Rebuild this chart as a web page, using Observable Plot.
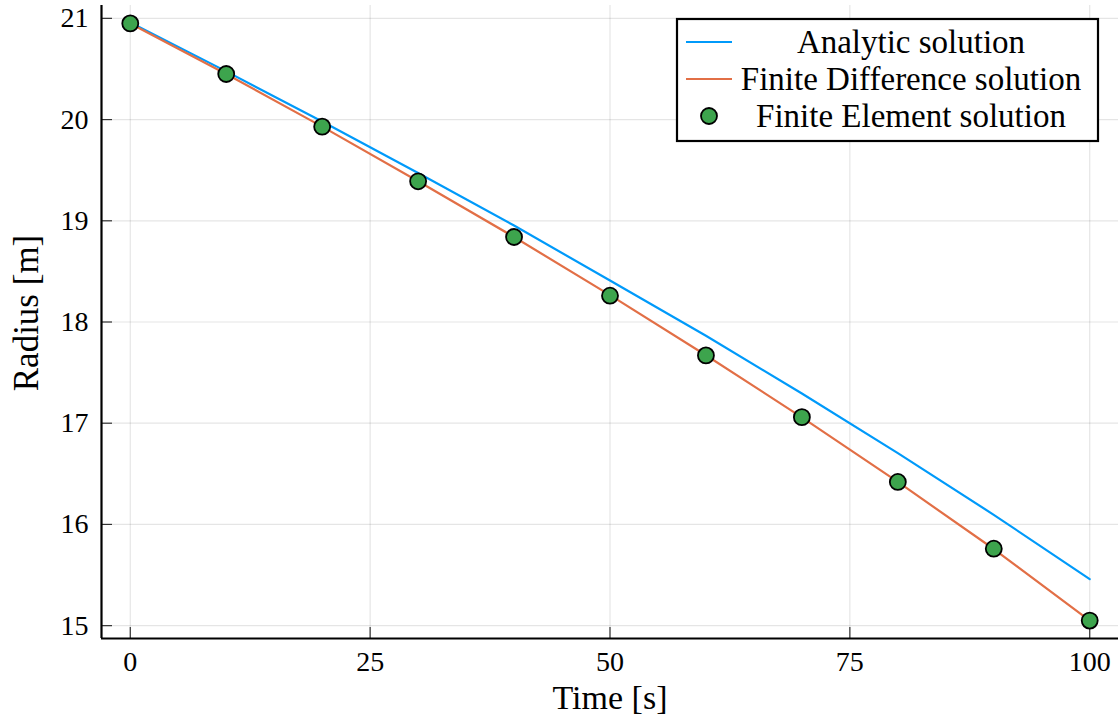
<!DOCTYPE html>
<html>
<head>
<meta charset="utf-8">
<script src="https://cdn.jsdelivr.net/npm/d3@7"></script>
<script src="https://cdn.jsdelivr.net/npm/@observablehq/plot@0.6"></script>
<style>
  html, body { margin: 0; padding: 0; background: #fff; }
  #chart svg { display: block; }
</style>
</head>
<body>
<div id="chart"></div>
<script>
// ---- data ----
const time = [0, 10, 20, 30, 40, 50, 60, 70, 80, 90, 100];
const analytic = [20.96, 20.476, 19.981, 19.473, 18.953, 18.41, 17.864, 17.294, 16.705, 16.095, 15.46];
const finiteDifference = [20.95, 20.45, 19.93, 19.39, 18.84, 18.265, 17.672, 17.058, 16.42, 15.757, 15.05];
const finiteElement = [20.95, 20.45, 19.93, 19.39, 18.84, 18.26, 17.67, 17.06, 16.42, 15.76, 15.05];

const xTicks = [0, 25, 50, 75, 100];
const yTicks = [15, 16, 17, 18, 19, 20, 21];
const xDomain = [-3, 103];
const yDomain = [14.873, 21.127];

const seriesNames = ["Analytic solution", "Finite Difference solution", "Finite Element solution"];
const colors = ["#009AFA", "#E26F46", "#3DA44D"];

const toRows = (vals) => time.map((t, i) => ({t, r: vals[i]}));
const aRows = toRows(analytic);
const fdRows = toRows(finiteDifference);
const feRows = toRows(finiteElement);

const W = 1118, H = 722;
const mL = 101, mR = 0, mT = 5, mB = 84;
const font = "'Liberation Serif', 'DejaVu Serif', serif";

const chart = Plot.plot({
  width: W,
  height: H,
  marginLeft: mL,
  marginRight: mR,
  marginTop: mT,
  marginBottom: mB,
  style: {fontFamily: font, background: "#fff", color: "#000"},
  x: {domain: xDomain, axis: null},
  y: {domain: yDomain, axis: null},
  marks: [
    Plot.gridX(xTicks, {stroke: "#000", strokeOpacity: 0.1, strokeWidth: 1.2}),
    Plot.gridY(yTicks, {stroke: "#000", strokeOpacity: 0.1, strokeWidth: 1.2}),
    // inward tick marks
    Plot.ruleX(xTicks, {x: d => d, insetTop: H - mT - mB - 11, stroke: "#333", strokeWidth: 1.2}),
    Plot.ruleY(yTicks, {y: d => d, insetRight: W - mL - mR - 11, stroke: "#333", strokeWidth: 1.2}),
    // axis lines
    Plot.ruleY([yDomain[0]], {stroke: "#000", strokeWidth: 2.2}),
    Plot.ruleX([xDomain[0]], {stroke: "#000", strokeWidth: 2.2}),
    // tick labels
    Plot.text(xTicks, {x: d => d, text: d => String(d), frameAnchor: "bottom", lineAnchor: "bottom", dy: 32, fontSize: 28, fill: "#000"}),
    Plot.text(yTicks, {y: d => d, text: d => String(d), frameAnchor: "left", textAnchor: "end", lineAnchor: "middle", dx: -13, fontSize: 28, fill: "#000"}),
    // axis titles
    Plot.text(["Time [s]"], {frameAnchor: "bottom", textAnchor: "middle", lineAnchor: "bottom", dy: 70, fontSize: 34, fill: "#000"}),
    Plot.text(["Radius [m]"], {frameAnchor: "left", textAnchor: "middle", rotate: -90, lineAnchor: "bottom", dx: -64, dy: -9, fontSize: 35, fill: "#000"}),
    // data
    Plot.line(aRows, {x: "t", y: "r", stroke: colors[0], strokeWidth: 2.2}),
    Plot.line(fdRows, {x: "t", y: "r", stroke: colors[1], strokeWidth: 2.2}),
    Plot.dot(feRows, {x: "t", y: "r", r: 8, fill: colors[2], stroke: "#000", strokeWidth: 1.8})
  ]
});

// ---- legend inside the plot area ----
const svg = d3.select(chart);
const lx = 677, ly = 19, lw = 421, lh = 122;
const lg = svg.append("g").attr("font-family", font);
lg.append("rect").attr("x", lx).attr("y", ly).attr("width", lw).attr("height", lh)
  .attr("fill", "#fff").attr("stroke", "#000").attr("stroke-width", 2.2);
const rowY = [42, 79, 116];
seriesNames.forEach((name, i) => {
  if (i < 2) {
    lg.append("line").attr("x1", 686).attr("x2", 732).attr("y1", rowY[i]).attr("y2", rowY[i])
      .attr("stroke", colors[i]).attr("stroke-width", 2.2);
  } else {
    lg.append("circle").attr("cx", 709).attr("cy", rowY[i]).attr("r", 8)
      .attr("fill", colors[2]).attr("stroke", "#000").attr("stroke-width", 1.8);
  }
  lg.append("text").attr("x", 911).attr("y", rowY[i] + 10.5).attr("text-anchor", "middle")
    .attr("font-size", 33).attr("fill", "#000").text(name);
});

document.getElementById("chart").appendChild(chart);
</script>
</body>
</html>
